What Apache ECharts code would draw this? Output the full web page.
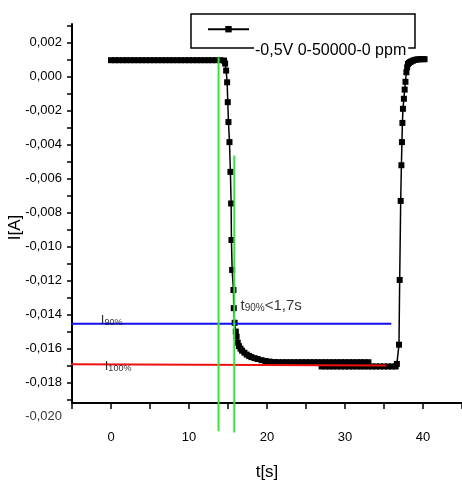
<!DOCTYPE html>
<html>
<head>
<meta charset="utf-8">
<script src="https://cdn.jsdelivr.net/npm/echarts@6/dist/echarts.min.js"></script>
<style>
  html, body { margin: 0; padding: 0; background: #fff; }
  #chart { width: 462px; height: 484px; }
</style>
</head>
<body>
<div id="chart"></div>
<script>
const seriesName = '-0,5V 0-50000-0 ppm';
const timeData = [
  0, 0.5, 1, 1.5, 2, 2.5, 3, 3.5, 4, 4.5, 5, 5.5, 6, 6.5, 7, 7.5, 8, 8.5, 9, 9.5,
  10, 10.5, 11, 11.5, 12, 12.5, 13, 13.5, 14, 14.5,
  14.63, 14.76, 14.89, 14.97, 15.06, 15.19, 15.31, 15.4, 15.44, 15.53, 15.7, 15.74, 15.85,
  16, 16.1, 16.25, 16.4, 16.6, 16.8, 17.1, 17.4, 17.7, 18, 18.4, 18.8, 19.3, 19.8, 20.3, 21,
  21.5, 22, 22.5, 23, 23.5, 24, 24.5, 25, 25.5, 26, 26.5, 27, 27.5, 28, 28.5, 29, 29.5,
  30, 30.5, 31, 31.5, 32, 32.5, 33,
  27, 27.5, 28, 28.5, 29, 29.5, 30, 30.5, 31, 31.5, 32, 32.5, 33, 33.5, 34, 34.5, 35, 35.5, 36, 36.5,
  36.65, 36.92, 37.01, 37.14, 37.23, 37.3, 37.36, 37.43, 37.55, 37.65, 37.75, 37.87, 37.97,
  38.07, 38.2, 38.35, 38.5, 38.7, 38.9, 39.15, 39.4, 39.7, 40, 40.2
];
const currentData = [
  0.00097, 0.00097, 0.00097, 0.00097, 0.00097, 0.00097, 0.00097, 0.00097, 0.00097, 0.00097,
  0.00097, 0.00097, 0.00097, 0.00097, 0.00097, 0.00097, 0.00097, 0.00097, 0.00097, 0.00097,
  0.00097, 0.00097, 0.00097, 0.00097, 0.00097, 0.00097, 0.00097, 0.00097, 0.00097, 0.00095,
  0.00077, 0.00036, -0.00033, -0.0015, -0.00267, -0.00385, -0.0056, -0.00746, -0.00961, -0.01137, -0.01255, -0.01362, -0.01448,
  -0.015, -0.0153, -0.01565, -0.01585, -0.016, -0.01612, -0.01624, -0.01635, -0.01643, -0.0165, -0.01656, -0.01661, -0.01668, -0.01673, -0.01676, -0.01679,
  -0.0168, -0.0168, -0.0168, -0.0168, -0.0168, -0.0168, -0.0168, -0.0168, -0.0168, -0.0168, -0.0168, -0.0168,
  -0.0168, -0.0168, -0.0168, -0.0168, -0.0168, -0.0168, -0.0168, -0.0168, -0.0168, -0.0168, -0.0168, -0.0168,
  -0.01705, -0.01705, -0.01705, -0.01705, -0.01705, -0.01705, -0.01705, -0.01705, -0.01705, -0.01705,
  -0.01705, -0.01705, -0.01705, -0.01705, -0.01705, -0.01705, -0.01705, -0.01705, -0.01705, -0.01705,
  -0.0169, -0.01577, -0.01196, -0.00731, -0.00521, -0.00385, -0.00272, -0.00189, -0.0013, -0.00076, -0.0003, 0.00026, 0.00055,
  0.00075, 0.00081, 0.00086, 0.0009, 0.00094, 0.00098, 0.00101, 0.00102, 0.00103, 0.00103, 0.00103
];

// helper lines (I90%, I100%, t markers)
const blueLine = [[-6.64, -0.01453], [35.94, -0.01453]];
const redLine = [[-8.8, -0.01692], [35.3, -0.017]];
const greenLine1 = [[13.79, 0.00114], [13.79, -0.02086]];
const greenLine2 = [[15.81, -0.00463], [15.81, -0.02093]];

// axis ticks
const xTickLabels = [0, 10, 20, 30, 40];
const yLabelValues = [-0.018, -0.016, -0.014, -0.012, -0.01, -0.008, -0.006, -0.004, -0.002, 0, 0.002];
const yTickValues = [-0.019, -0.018, -0.017, -0.016, -0.015, -0.014, -0.013, -0.012, -0.011, -0.01, -0.009,
  -0.008, -0.007, -0.006, -0.005, -0.004, -0.003, -0.002, -0.001, 0, 0.001, 0.002, 0.003];

// annotation texts and where they sit
const annoPoints = [[-1.3, -0.01436], [-0.8, -0.01703], [16.6, -0.01348], [-5, -0.020]];
const annoTexts = ['{b|I}{s|90%}', '{b|I}{s|100%}', '{t|t}{ts|90%}{t|<1,7s}', '{y|-0,020}'];
const annoPos = ['right', 'right', 'right', 'left'];

const FONT = '"Liberation Sans", Arial, sans-serif';

function fmtY(v) {
  if (Math.abs(v) < 1e-9) return '0,000';
  return v.toFixed(3).replace('.', ',');
}

const chart = echarts.init(document.getElementById('chart'));

const option = {
  animation: false,
  backgroundColor: '#fff',
  grid: { left: 72, right: 0, top: 24, bottom: 81, outerBoundsMode: 'none', containLabel: false },
  legend: {
    data: [seriesName],
    left: 207,
    top: 26,
    padding: 0,
    itemWidth: 41,
    itemHeight: 8,
    selectedMode: false,
    formatter: '{t|{name}}',
    textStyle: {
      fontFamily: FONT, fontSize: 16, color: '#000',
      padding: [42, 0, 0, 0],
      rich: {
        t: { fontFamily: FONT, fontSize: 16, color: '#000', backgroundColor: '#fff', padding: [0, 2, 0, 1] }
      }
    }
  },
  graphic: [{
    type: 'rect',
    z: 1,
    shape: { x: 191, y: 14, width: 224, height: 34 },
    style: { fill: 'none', stroke: '#000', lineWidth: 1.5 }
  }],
  xAxis: {
    type: 'value',
    min: -5,
    max: 45,
    interval: 5,
    name: 't[s]',
    nameLocation: 'middle',
    nameGap: 61,
    nameMoveOverlap: false,
    nameTextStyle: { fontFamily: FONT, fontSize: 17, color: '#000' },
    axisLine: { onZero: false, lineStyle: { color: '#000', width: 2 } },
    axisTick: { length: 6, lineStyle: { color: '#000', width: 1.5 } },
    axisLabel: {
      margin: 28,
      fontFamily: FONT, fontSize: 13, color: '#000',
      formatter: v => xTickLabels.indexOf(v) >= 0 ? String(v) : ''
    },
    splitLine: { show: false }
  },
  yAxis: {
    type: 'value',
    min: -0.0192,
    max: 0.0031,
    name: 'I[A]',
    nameLocation: 'middle',
    nameGap: 48,
    nameMoveOverlap: false,
    nameTextStyle: { fontFamily: FONT, fontSize: 17, color: '#000', padding: [0, 28, 0, 0] },
    axisLine: { onZero: false, lineStyle: { color: '#000', width: 2 } },
    axisTick: { customValues: yTickValues, length: 5, lineStyle: { color: '#000', width: 1.5 } },
    axisLabel: {
      customValues: yLabelValues,
      margin: 10,
      fontFamily: FONT, fontSize: 13, color: '#000',
      formatter: fmtY
    },
    splitLine: { show: false }
  },
  series: [
    {
      name: seriesName,
      type: 'line',
      data: timeData.map((t, i) => [t, currentData[i]]),
      symbol: 'rect',
      symbolSize: 6,
      showAllSymbol: true,
      lineStyle: { color: '#000', width: 1.5 },
      itemStyle: { color: '#000' },
      z: 2
    },
    {
      type: 'line', data: blueLine, symbol: 'none', clip: false, silent: true,
      lineStyle: { color: '#1010ee', width: 2 }, z: 3
    },
    {
      type: 'line', data: redLine, symbol: 'none', clip: false, silent: true,
      lineStyle: { color: '#ee1010', width: 2 }, z: 3
    },
    {
      type: 'line', data: greenLine1, symbol: 'none', clip: false, silent: true,
      lineStyle: { color: '#33e633', width: 2 }, z: 3
    },
    {
      type: 'line', data: greenLine2, symbol: 'none', clip: false, silent: true,
      lineStyle: { color: '#33e633', width: 2 }, z: 3
    },
    {
      type: 'scatter',
      clip: false,
      silent: true,
      symbolSize: 0,
      z: 4,
      data: annoPoints.map((p, i) => ({
        value: p,
        label: { show: true, position: annoPos[i], distance: annoPos[i] === 'left' ? 10 : 0, formatter: annoTexts[i] }
      })),
      label: {
        color: '#000',
        rich: {
          b: { fontFamily: FONT, fontSize: 13, color: '#000' },
          s: { fontFamily: FONT, fontSize: 9, color: '#000', verticalAlign: 'bottom' },
          t: { fontFamily: FONT, fontSize: 15, color: '#000' },
          ts: { fontFamily: FONT, fontSize: 10, color: '#000', verticalAlign: 'bottom' },
          y: { fontFamily: FONT, fontSize: 13, color: '#000' }
        }
      }
    }
  ]
};

chart.setOption(option);
</script>
</body>
</html>
